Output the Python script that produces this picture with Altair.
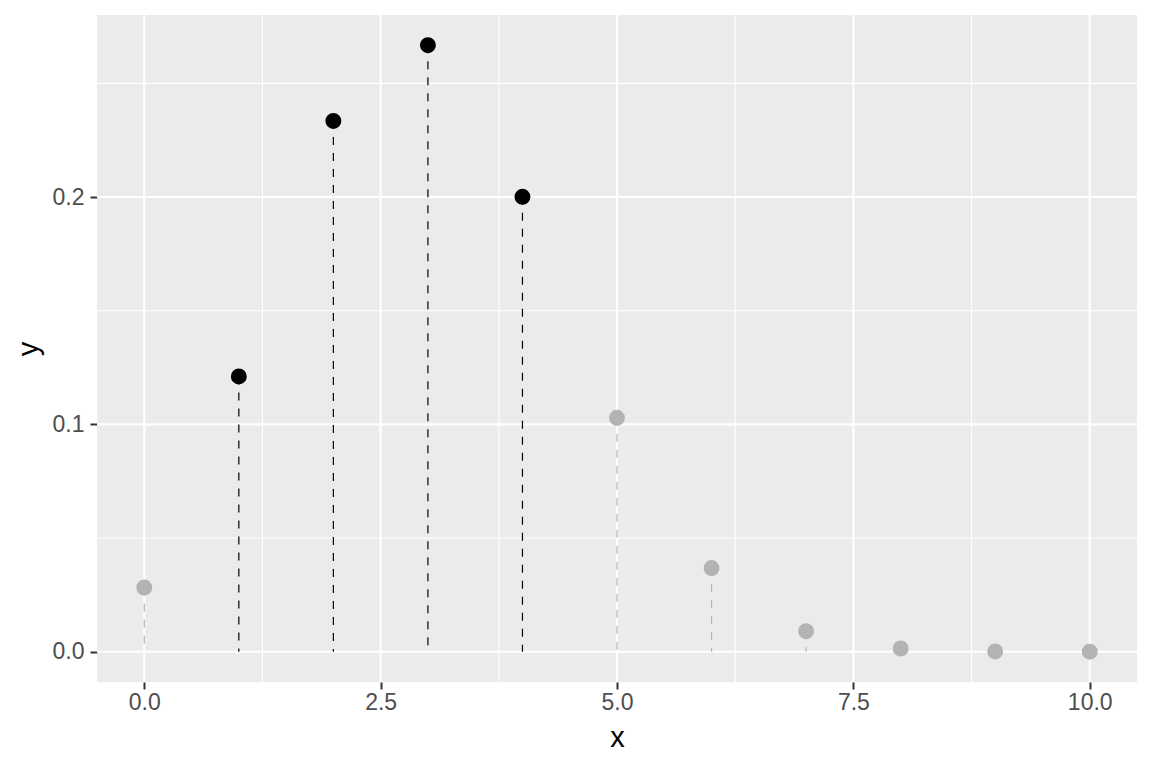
import altair as alt
import pandas as pd

x_vals = [0, 1, 2, 3, 4, 5, 6, 7, 8, 9, 10]
y_vals = [0.0282, 0.1211, 0.2335, 0.2668, 0.2001, 0.1029, 0.0368, 0.0090, 0.0014, 0.0001, 0.0000]
group = ["out", "in", "in", "in", "in", "out", "out", "out", "out", "out", "out"]

x_major = [0, 2.5, 5, 7.5, 10]
x_minor = [1.25, 3.75, 6.25, 8.75]
y_major = [0.0, 0.1, 0.2]
y_minor = [0.05, 0.15, 0.25]

df = pd.DataFrame({"x": x_vals, "y": y_vals, "g": group, "zero": [0.0] * len(x_vals)})

xs = alt.Scale(domain=[-0.5, 10.5], nice=False, zero=False)
ys = alt.Scale(domain=[-0.01334, 0.2801], nice=False, zero=False)
col = alt.Scale(domain=["in", "out"], range=["#000000", "#B3B3B3"])

GRID = "#FFFFFF"
FONT = "Liberation Sans"

xminor = alt.Chart(pd.DataFrame({"v": x_minor})).mark_rule(color=GRID, strokeWidth=1.1).encode(
    x=alt.X("v:Q", scale=xs))
yminor = alt.Chart(pd.DataFrame({"v": y_minor})).mark_rule(color=GRID, strokeWidth=1.1).encode(
    y=alt.Y("v:Q", scale=ys))
xmajor = alt.Chart(pd.DataFrame({"v": x_major})).mark_rule(color=GRID, strokeWidth=2.1).encode(
    x=alt.X("v:Q", scale=xs))
ymajor = alt.Chart(pd.DataFrame({"v": y_major})).mark_rule(color=GRID, strokeWidth=2.1).encode(
    y=alt.Y("v:Q", scale=ys))

base = alt.Chart(df)

segs = base.mark_rule(strokeDash=[8, 8], strokeWidth=1.2).encode(
    x=alt.X("x:Q", scale=xs,
            axis=alt.Axis(values=x_major, format=".1f", title="x", grid=False, domain=False,
                          tickColor="#333333", tickSize=7, tickWidth=2, labelColor="#4D4D4D",
                          labelFontSize=23, labelPadding=2, titleFontSize=29, titleColor="#000000",
                          titleFontWeight="normal", titlePadding=9, labelFont=FONT,
                          titleFont=FONT)),
    y=alt.Y("y:Q", scale=ys,
            axis=alt.Axis(values=y_major, format=".1f", title="y", grid=False, domain=False,
                          tickColor="#333333", tickSize=7, tickWidth=2, labelColor="#4D4D4D",
                          labelFontSize=23, labelPadding=6, titleFontSize=29, titleColor="#000000",
                          titleFontWeight="normal", titlePadding=9, labelFont=FONT,
                          titleFont=FONT)),
    y2="zero:Q",
    color=alt.Color("g:N", scale=col, legend=None),
)

pts = base.mark_circle(size=254, opacity=1).encode(
    x=alt.X("x:Q", scale=xs),
    y=alt.Y("y:Q", scale=ys),
    color=alt.Color("g:N", scale=col, legend=None),
)

chart = alt.layer(xminor, yminor, xmajor, ymajor, segs, pts).properties(
    width=1040, height=667,
    autosize=alt.AutoSizeParams(type="none"),
    padding={"left": 89, "top": 7, "right": 7, "bottom": 78},
).configure_view(fill="#EBEBEB", stroke=None)

chart.save("out.html", embed_options={"renderer": "svg", "actions": False})
